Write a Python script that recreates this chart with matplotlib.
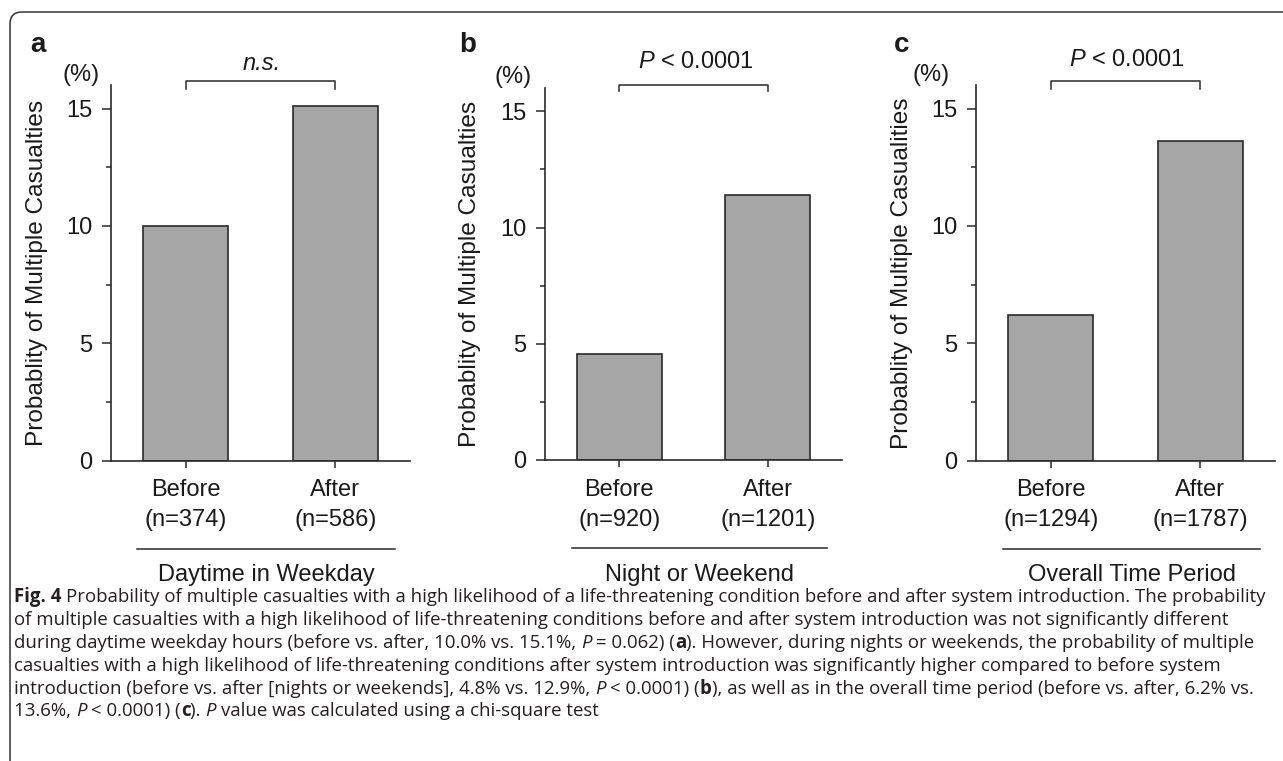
import matplotlib
matplotlib.use("Agg")
import matplotlib.pyplot as plt
import matplotlib.transforms as mtransforms
from matplotlib.patches import FancyBboxPatch

# ---------------- data ----------------
panel_letters = ["a", "b", "c"]
categories = ["Before", "After"]
n_before = ["(n=374)", "(n=920)", "(n=1294)"]
n_after = ["(n=586)", "(n=1201)", "(n=1787)"]
before_vals = [10.0, 4.55, 6.2]
after_vals = [15.1, 11.4, 13.6]
stat_labels = ["n.s.", r"$\it{P}$ < 0.0001", r"$\it{P}$ < 0.0001"]
stat_italic = [True, False, False]
group_titles = ["Daytime in Weekday", "Night or Weekend", "Overall Time Period"]
ylabels = ["Probablity of Multiple Casualties",
           "Probablity of Multiple Casualties",
           "Probablity of Multiple Casualities"]
yticks = [0, 5, 10, 15]
yminor = [2.5, 7.5, 12.5]

caption_lines = [
    [("Fig. 4", "b"), (" Probability of multiple casualties with a high likelihood of a life-threatening condition before and after system introduction. The probability", "n")],
    [("of multiple casualties with a high likelihood of life-threatening conditions before and after system introduction was not significantly different", "n")],
    [("during daytime weekday hours (before vs. after, 10.0% vs. 15.1%, ", "n"), ("P", "i"), (" = 0.062) (", "n"), ("a", "b"), ("). However, during nights or weekends, the probability of multiple", "n")],
    [("casualties with a high likelihood of life-threatening conditions after system introduction was significantly higher compared to before system", "n")],
    [("introduction (before vs. after [nights or weekends], 4.8% vs. 12.9%, ", "n"), ("P", "i"), (" < 0.0001) (", "n"), ("b", "b"), ("), as well as in the overall time period (before vs. after, 6.2% vs.", "n")],
    [("13.6%, ", "n"), ("P", "i"), (" < 0.0001) (", "n"), ("c", "b"), ("). ", "n"), ("P", "i"), (" value was calculated using a chi-square test", "n")],
]

# ---------------- style ----------------
W, H = 1283, 761
TXT = "#1a1a1a"
BAR = "#a6a6a6"
EDGE = "#2a2a2a"
FS = 17
plt.rcParams["font.family"] = ["Liberation Sans", "DejaVu Sans"]
plt.rcParams["mathtext.fontset"] = "custom"
plt.rcParams["mathtext.rm"] = "Liberation Sans"
plt.rcParams["mathtext.it"] = "Liberation Sans:italic"
plt.rcParams["mathtext.bf"] = "Liberation Sans:bold"

fig = plt.figure(figsize=(W / 100, H / 100), dpi=100)


def fx(x):
    return x / W


def fy(y):
    return 1 - y / H


# axes rectangles in pixels: left, right, top, bottom
rects = [(111, 410, 85, 461), (545, 842, 88, 460), (976, 1275, 85, 461)]
letter_pos = [(38, 45), (468, 45), (902, 45)]
pct_pos = [(81, 75), (513, 77), (931, 75)]
stat_pos = [(262, 63), (696, 62), (1127, 60)]
ylabel_x = [48, 481, 913]
underline = [(137, 395, 549), (572, 827, 548), (1003, 1260, 549)]

for k in range(3):
    l, r, t, b = rects[k]
    ax = fig.add_axes([fx(l), fy(b), (r - l) / W, (b - t) / H])
    xs = [0, 1]
    ax.bar(xs, [before_vals[k], after_vals[k]], width=0.57, color=BAR,
           edgecolor=EDGE, linewidth=1.2, zorder=2)
    ax.set_xlim(-0.5, 1.5)
    ax.set_ylim(0, 16)
    for s in ["top", "right"]:
        ax.spines[s].set_visible(False)
    for s in ["left", "bottom"]:
        ax.spines[s].set_linewidth(1.2)
        ax.spines[s].set_color(EDGE)
    ax.set_yticks(yticks)
    ax.set_yticks(yminor, minor=True)
    ax.tick_params(axis="y", which="major", length=6.5, width=1.1, color=EDGE,
                   labelsize=FS, labelcolor=TXT, pad=7)
    ax.tick_params(axis="y", which="minor", length=3.6, width=1.1, color=EDGE)
    ax.set_xticks(xs)
    ax.set_xticklabels(["", ""])
    ax.tick_params(axis="x", length=5, width=1.1, color=EDGE)
    ax.set_ylabel(ylabels[k], fontsize=17.6, color=TXT)
    ax.yaxis.set_label_coords((ylabel_x[k] - l) / (r - l), 0.5)

    # x category labels
    tr = mtransforms.blended_transform_factory(ax.transData, fig.transFigure)
    for i, (cat, nn) in enumerate(zip(categories, [n_before[k], n_after[k]])):
        ax.text(xs[i], fy(490), cat, transform=tr, ha="center", va="center",
                fontsize=FS, color=TXT)
        ax.text(xs[i], fy(520), nn, transform=tr, ha="center", va="center",
                fontsize=FS, color=TXT)

    # significance bracket
    ax.plot([0, 0, 1, 1], [15.85, 16.15, 16.15, 15.85], color=EDGE, lw=1.1,
            clip_on=False)

    fig.text(fx(letter_pos[k][0]), fy(letter_pos[k][1]), panel_letters[k],
             fontsize=20, fontweight="bold", ha="center", va="center", color=TXT)
    fig.text(fx(pct_pos[k][0]), fy(pct_pos[k][1]), "(%)", fontsize=FS,
             ha="center", va="center", color=TXT)
    fig.text(fx(stat_pos[k][0]), fy(stat_pos[k][1]), stat_labels[k],
             fontsize=FS, ha="center", va="center", color=TXT,
             fontstyle="italic" if stat_italic[k] else "normal")

    ux0, ux1, uy = underline[k]
    fig.add_artist(plt.Line2D([fx(ux0), fx(ux1)], [fy(uy), fy(uy)],
                              color=EDGE, lw=1.1, transform=fig.transFigure))
    fig.text(fx((ux0 + ux1) / 2), fy(575), group_titles[k], fontsize=FS,
             ha="center", va="center", color=TXT)

# ---------------- caption ----------------
CAP_FONT = ["Open Sans", "DejaVu Sans"]
CAP_COL = "#231f20"
renderer = fig.canvas.get_renderer()


def style_kw(st, size):
    kw = dict(fontsize=size, family=CAP_FONT, color=CAP_COL)
    if st == "b":
        kw["fontweight"] = "bold"
    if st == "i":
        kw["fontstyle"] = "italic"
    return kw


def seg_width(s, st, size):
    t = fig.text(0, 0, "x" + s + "x", **style_kw(st, size))
    w1 = t.get_window_extent(renderer).width
    t.set_text("xx")
    w2 = t.get_window_extent(renderer).width
    t.remove()
    return w1 - w2


base = 10.0
w0 = sum(seg_width(s, st, base) for s, st in caption_lines[0])
cap_size = base * 1255.0 / w0

baselines = [602, 625, 648, 671, 694, 716]
for line, by in zip(caption_lines, baselines):
    x = 14.0
    for s, st in line:
        lead = len(s) - len(s.lstrip(" "))
        if lead:
            x += lead * seg_width(" ", st, cap_size)
        body = s.lstrip(" ")
        fig.text(fx(x), fy(by), body, ha="left", va="baseline",
                 **style_kw(st, cap_size))
        x += seg_width(body, st, cap_size)

# ---------------- frame ----------------
frame = FancyBboxPatch((10, -40), 1320, (H - 12) + 40,
                       boxstyle="round,pad=0,rounding_size=12",
                       transform=mtransforms.IdentityTransform(),
                       fill=False, edgecolor="#333333", linewidth=1.1)
fig.add_artist(frame)

fig.savefig("out.png", dpi=100)
